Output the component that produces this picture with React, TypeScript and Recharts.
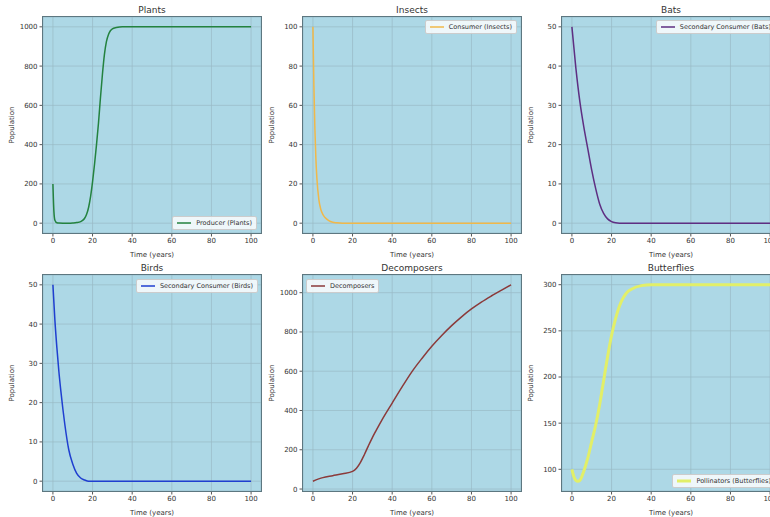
import React from 'react';
import { CartesianGrid, Line, LineChart, XAxis, YAxis } from 'recharts';

// values
const xTicks = [0, 20, 40, 60, 80, 100];

const plantsTime = [0, 0.5, 1, 2, 3, 5, 8, 10, 12, 14, 15, 16, 17, 18, 19, 20, 21, 22, 23, 24, 25, 26, 27, 28, 29, 30, 32, 35, 40, 60, 80, 100];
const plantsPop = [200, 60, 15, 2, 0.5, 0, 0, 1, 3, 8, 14, 25, 45, 80, 135, 210, 300, 400, 510, 640, 760, 860, 925, 960, 980, 990, 996, 1000, 1000, 1000, 1000, 1000];

const insectsTime = [0, 0.5, 1, 1.5, 2, 3, 4, 5, 6, 8, 10, 12, 15, 20, 40, 60, 80, 100];
const insectsPop = [100, 70, 48, 33, 23, 12, 7, 4.5, 3, 1.3, 0.5, 0.2, 0, 0, 0, 0, 0, 0];

const batsTime = [0, 2, 4, 6, 8, 10, 12, 14, 16, 18, 20, 22, 24, 30, 50, 75, 100];
const batsPop = [50, 39.5, 31, 24.5, 19, 13.5, 8.8, 4.9, 2.5, 1.1, 0.4, 0.1, 0, 0, 0, 0, 0];

const birdsTime = [0, 1, 2, 3, 4, 5, 6, 8, 10, 12, 14, 16, 18, 20, 40, 60, 80, 100];
const birdsPop = [50, 41, 34, 28, 23, 18.5, 14.5, 8, 4.4, 2, 0.8, 0.3, 0, 0, 0, 0, 0, 0];

const decompTime = [0, 5, 10, 15, 20, 22, 24, 26, 28, 30, 32, 35, 40, 45, 50, 55, 60, 65, 70, 75, 80, 85, 90, 95, 100];
const decompPop = [40, 58, 68, 78, 90, 106, 136, 176, 220, 262, 300, 355, 438, 520, 598, 665, 727, 782, 832, 877, 917, 952, 983, 1012, 1040];

const butterTime = [0, 1, 2, 3, 4, 6, 8, 10, 12, 14, 16, 18, 20, 22, 24, 26, 28, 30, 35, 40, 60, 80, 100];
const butterPop = [100, 92, 88, 87, 88, 98, 112, 130, 148, 170, 196, 222, 245, 263, 277, 286, 292, 295, 299, 300, 300, 300, 300];

const PW = 218;
const PH = 216;
const FONT = '"DejaVu Sans", sans-serif';

type PanelProps = {
  title: string;
  left: number;
  top: number;
  time: number[];
  values: number[];
  color: string;
  lineWidth?: number;
  domain: [number, number];
  yTicks: number[];
  legendName: string;
  legendPos: React.CSSProperties;
};

const Panel = ({ title, left, top, time, values, color, lineWidth = 1.5, domain, yTicks, legendName, legendPos }: PanelProps) => {
  const data = time.map((t, i) => ({ t, v: values[i] }));
  const tickStyle = { fontSize: 7, fill: '#333', fontFamily: FONT };
  return (
    <div style={{ position: 'absolute', left: left - 43, top: top - 17, width: 43 + PW + 6, height: 17 + PH + 26 }}>
      <div style={{ position: 'absolute', left: 43, top: 3, width: PW, height: 14, lineHeight: '14px', textAlign: 'center', fontSize: 9, color: '#333' }}>
        {title}
      </div>
      <LineChart width={43 + PW + 6} height={17 + PH + 26} data={data} margin={{ top: 17, right: 6, left: 0, bottom: 0 }}>
        <CartesianGrid fill="#add8e6" stroke="#99bac5" strokeWidth={0.7} />
        <XAxis
          dataKey="t"
          type="number"
          domain={[-5, 105]}
          ticks={xTicks}
          height={26}
          tickSize={3.5}
          tick={tickStyle}
          axisLine={false}
          tickLine={{ stroke: '#555' }}
          label={{ value: 'Time (years)', position: 'insideBottom', offset: 2, style: { fontSize: 7, fill: '#333', fontFamily: FONT } }}
        />
        <YAxis
          type="number"
          domain={domain}
          ticks={yTicks}
          width={43}
          tickSize={3.5}
          tick={tickStyle}
          axisLine={false}
          tickLine={{ stroke: '#555' }}
          allowDataOverflow
          label={{ value: 'Population', angle: -90, position: 'insideLeft', offset: 12, style: { fontSize: 7, fill: '#333', fontFamily: FONT, textAnchor: 'middle' } }}
        />
        <Line dataKey="v" type="monotone" stroke={color} strokeWidth={lineWidth} dot={false} isAnimationActive={false} />
      </LineChart>
      <div style={{ position: 'absolute', left: 42, top: 16, width: PW, height: PH, border: '1.2px solid #5d7780', pointerEvents: 'none' }} />
      <div style={{ position: 'absolute', left: 43, top: 17, width: PW, height: PH, pointerEvents: 'none' }}>
        <div
          style={{
            position: 'absolute',
            ...legendPos,
            display: 'flex',
            alignItems: 'center',
            background: 'rgba(255,255,255,0.8)',
            border: '0.8px solid #ccc',
            borderRadius: 2,
            padding: '2px 4px',
            fontSize: 6.5,
            color: '#333',
            whiteSpace: 'nowrap',
          }}
        >
          <svg width={14} height={6} style={{ marginRight: 5 }}>
            <line x1={0} y1={3} x2={14} y2={3} stroke={color} strokeWidth={lineWidth} />
          </svg>
          {legendName}
        </div>
      </div>
    </div>
  );
};

export default function App() {
  return (
    <div style={{ position: 'absolute', left: 0, top: 0, width: 770, height: 517, overflow: 'hidden', background: '#fff', fontFamily: FONT }}>
      <Panel title="Plants" left={43} top={17} time={plantsTime} values={plantsPop} color="#23823f" domain={[-50, 1050]} yTicks={[0, 200, 400, 600, 800, 1000]} legendName="Producer (Plants)" legendPos={{ right: 4, bottom: 3 }} />
      <Panel title="Insects" left={303} top={17} time={insectsTime} values={insectsPop} color="#f0b84a" domain={[-5, 105]} yTicks={[0, 20, 40, 60, 80, 100]} legendName="Consumer (Insects)" legendPos={{ right: 4, top: 3 }} />
      <Panel title="Bats" left={562} top={17} time={batsTime} values={batsPop} color="#5e2e82" domain={[-2.5, 52.5]} yTicks={[0, 10, 20, 30, 40, 50]} legendName="Secondary Consumer (Bats)" legendPos={{ right: 4, top: 3 }} />
      <Panel title="Birds" left={43} top={275} time={birdsTime} values={birdsPop} color="#1f3fd0" domain={[-2.5, 52.5]} yTicks={[0, 10, 20, 30, 40, 50]} legendName="Secondary Consumer (Birds)" legendPos={{ right: 3, top: 4 }} />
      <Panel title="Decomposers" left={303} top={275} time={decompTime} values={decompPop} color="#8b3a3a" domain={[-10, 1090]} yTicks={[0, 200, 400, 600, 800, 1000]} legendName="Decomposers" legendPos={{ left: 3, top: 4 }} />
      <Panel title="Butterflies" left={562} top={275} time={butterTime} values={butterPop} color="#e2ef68" lineWidth={3} domain={[76.5, 310.5]} yTicks={[100, 150, 200, 250, 300]} legendName="Pollinators (Butterflies)" legendPos={{ right: 4, bottom: 3 }} />
    </div>
  );
}
